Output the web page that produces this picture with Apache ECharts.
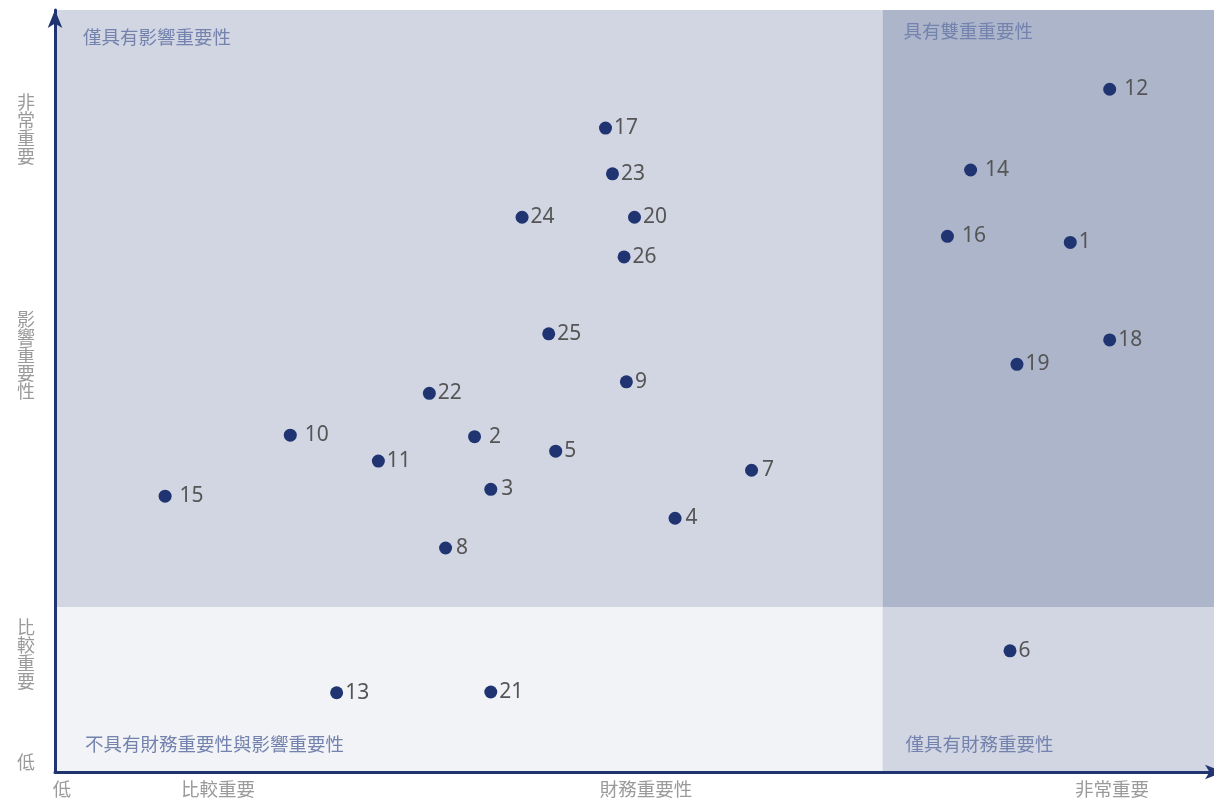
<!DOCTYPE html>
<html>
<head>
<meta charset="utf-8">
<script src="https://cdn.jsdelivr.net/npm/echarts@6/dist/echarts.min.js"></script>
<style>html,body{margin:0;padding:0;background:#fff}#c{width:1214px;height:801px}</style>
</head>
<body>
<div id="c"></div>
<script>
// ---- data ----
const names = ['12','14','16','1','18','19','6','17','23','24','20','26','25','9','22','10','2','5','11','7','15','3','4','8','13','21'];
const financial = [91.0,79.0,77.0,87.6,91.0,83.0,82.4,47.5,48.1,40.3,50.0,49.1,42.6,49.3,32.3,20.3,36.2,43.2,27.9,60.1,9.5,37.6,53.5,33.7,24.3,37.6];
const impact =    [89.6,79.0,70.3,69.5,56.7,53.5,15.9,84.5,78.5,72.8,72.8,67.6,57.5,51.2,49.7,44.2,44.0,42.1,40.8,39.6,36.2,37.1,33.3,29.4,10.4,10.5];
const xSplit = 71.4;
const ySplit = 21.65;
const xTickValues = [0.6, 14.06, 51.0, 91.2];
const xTickLabels = ['低', '比較重要', '財務重要性', '非常重要'];
const yTickValues = [1.3, 15.5, 54.7, 84.4];
const yTickLabels = ['低', '比較重要', '影響重要性', '非常重要'];
const quadrantNames = ['僅具有影響重要性', '具有雙重重要性', '不具有財務重要性與影響重要性', '僅具有財務重要性'];

// ---- styles ----
const navy = '#1f3470';
const qColor = '#7483ad';
const wideGap = {'12':1,'14':1,'16':1,'10':1,'2':1,'15':1};
const midGap = {'7':1,'8':1,'3':1,'4':1};

const pts = names.map((n, i) => ({
  name: n,
  value: [financial[i], impact[i]],
  label: { distance: wideGap[n] ? 8 : (midGap[n] ? 4 : 2) }
}));

const qLabel = (pos, extra) => Object.assign({
  show: true, position: pos, color: qColor, fontSize: 18.5,
  fontFamily: 'Noto Sans CJK TC'
}, extra || {});

const chart = echarts.init(document.getElementById('c'));
chart.setOption({
  animation: false,
  grid: { left: 55, right: 0, top: 10, bottom: 29 },
  xAxis: {
    type: 'value', min: 0, max: 100, z: 20,
    splitLine: { show: false },
    axisTick: { show: false },
    axisLine: { show: true, lineStyle: { color: navy, width: 3 }, symbol: ['none', 'arrow'], symbolSize: [11, 18], symbolOffset: [0, 9] },
    axisLabel: {
      customValues: xTickValues,
      formatter: v => xTickLabels[xTickValues.indexOf(v)] || '',
      color: '#9a9a9a', fontSize: 18.5, margin: 8, fontFamily: 'Noto Sans CJK TC'
    }
  },
  yAxis: {
    type: 'value', min: 0, max: 100, z: 20,
    splitLine: { show: false },
    axisTick: { show: false },
    axisLine: { show: true, lineStyle: { color: navy, width: 3 }, symbol: ['none', 'arrow'], symbolSize: [11, 18] },
    axisLabel: {
      customValues: yTickValues,
      formatter: v => (yTickLabels[yTickValues.indexOf(v)] || '').split('').join('\n'),
      color: '#9a9a9a', fontSize: 18, lineHeight: 18, margin: 20, fontFamily: 'Noto Sans CJK TC'
    }
  },
  series: [{
    type: 'scatter',
    symbolSize: 13,
    itemStyle: { color: navy, opacity: 1 },
    label: {
      show: true, position: 'right', formatter: '{b}',
      color: '#555', fontSize: 21, fontFamily: 'Noto Sans'
    },
    data: pts,
    z: 5,
    markArea: {
      silent: true,
      data: [
        [{ coord: [0, ySplit], itemStyle: { color: '#d2d6e3' }, label: qLabel([28, 18]) }, { coord: [xSplit, 100] }],
        [{ coord: [xSplit, ySplit], itemStyle: { color: '#adb5cb' }, label: qLabel([21, 12]) }, { coord: [100, 100] }],
        [{ coord: [0, 0], itemStyle: { color: '#f2f3f7' }, label: qLabel([30, '100%'], { offset: [0, -37] }) }, { coord: [xSplit, ySplit] }],
        [{ coord: [xSplit, 0], itemStyle: { color: '#d2d6e3' }, label: qLabel([23, '100%'], { offset: [0, -37] }) }, { coord: [100, ySplit] }]
      ].map((d, i) => { d[0].name = quadrantNames[i]; return d; })
    }
  }]
});
</script>
</body>
</html>
